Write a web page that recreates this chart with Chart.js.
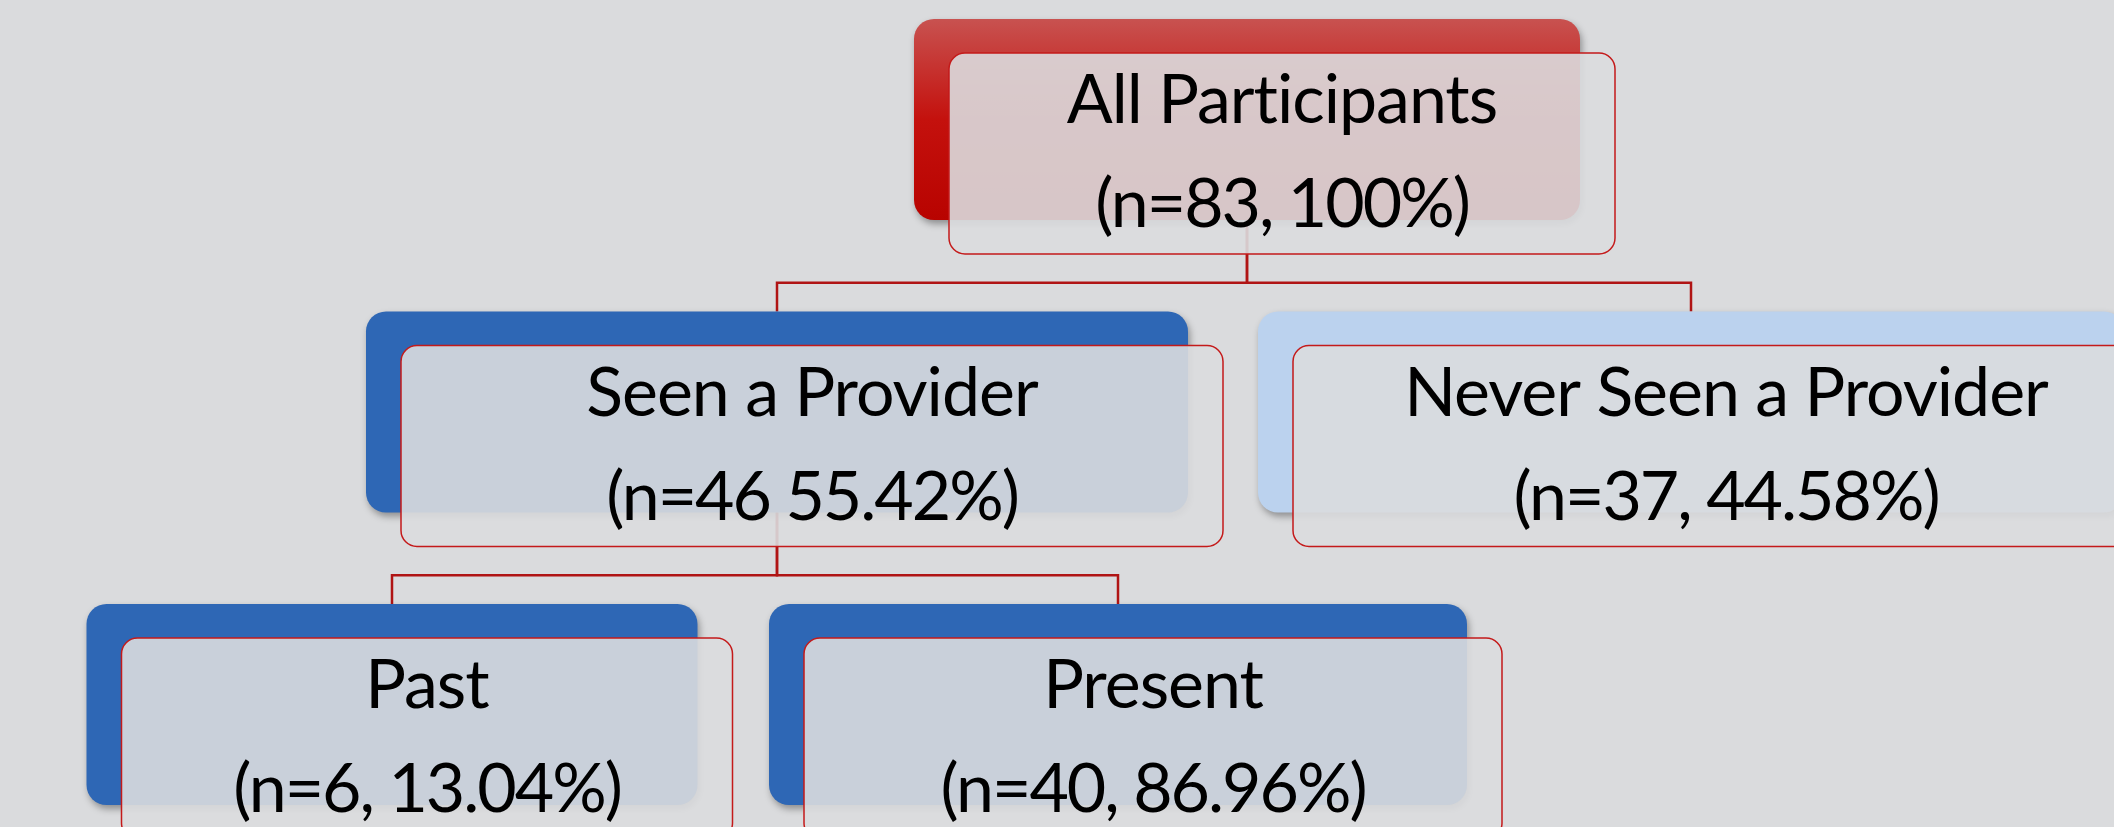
<!DOCTYPE html>
<html>
<head>
<meta charset="utf-8">
<title>Participants tree</title>
<script src="https://cdn.jsdelivr.net/npm/chart.js@4.4.1/dist/chart.umd.min.js"></script>
<style>
  html, body { margin: 0; padding: 0; background: #dadbdd; overflow: hidden; }
  #tree { display: block; }
</style>
</head>
<body>
<canvas id="tree" width="2114" height="827"></canvas>
<script>
// Node data
const nodeNames = ['All Participants', 'Seen a Provider', 'Never Seen a Provider', 'Past', 'Present'];
const nodeCounts = [83, 46, 37, 6, 40];
const nodePcts = ['100', '55.42', '44.58', '13.04', '86.96'];
const nodeSeps = [', ', ' ', ', ', ', ', ', '];   // the source omits the comma on one node
const nodeParent = [-1, 0, 0, 1, 1];

// Layout (tree level and centre of each box, in axis units)
const nodeLevel = [0, 1, 1, 2, 2];
const nodeX = [1247, 777, 1691, 392, 1118];
const nodeW = [666, 822, 866, 611, 698];
const nodeColor = ['red', '#2e67b5', '#bbd2ee', '#2e67b5', '#2e67b5'];

const BOX_H = 201;
const SHIFT_X = 35, SHIFT_Y = 34;

function roundRect(ctx, x, y, w, h, r) {
    ctx.beginPath();
    ctx.moveTo(x + r, y);
    ctx.arcTo(x + w, y, x + w, y + h, r);
    ctx.arcTo(x + w, y + h, x, y + h, r);
    ctx.arcTo(x, y + h, x, y, r);
    ctx.arcTo(x, y, x + w, y, r);
    ctx.closePath();
}

const treePlugin = {
    id: 'treeBoxes',
    beforeDatasetsDraw(chart) {
        const ctx = chart.ctx;
        const xs = chart.scales.x, ys = chart.scales.y;
        const boxes = nodeNames.map((name, i) => {
            const cx = xs.getPixelForValue(nodeX[i]);
            const top = ys.getPixelForValue(nodeLevel[i]);
            return { cx: cx, left: cx - nodeW[i] / 2, top: top, w: nodeW[i] };
        });

        // connectors (elbow lines, under the boxes)
        ctx.save();
        ctx.strokeStyle = '#b01414';
        ctx.lineWidth = 2.5;
        nodeParent.forEach((p, i) => {
            if (p < 0) return;
            const pb = boxes[p], cb = boxes[i];
            const startY = pb.top + BOX_H;
            const elbowY = (pb.top + SHIFT_Y + BOX_H + cb.top) / 2;
            ctx.beginPath();
            ctx.moveTo(pb.cx, startY);
            ctx.lineTo(pb.cx, elbowY);
            ctx.lineTo(cb.cx, elbowY);
            ctx.lineTo(cb.cx, cb.top);
            ctx.stroke();
        });
        ctx.restore();

        // back (coloured) boxes with shadow
        boxes.forEach((b, i) => {
            ctx.save();
            ctx.shadowColor = 'rgba(0,0,0,0.35)';
            ctx.shadowBlur = 7;
            ctx.shadowOffsetX = 2;
            ctx.shadowOffsetY = 4;
            if (nodeColor[i] === 'red') {
                const g = ctx.createLinearGradient(0, b.top, 0, b.top + BOX_H);
                g.addColorStop(0, '#c85250');
                g.addColorStop(0.5, '#c4110d');
                g.addColorStop(1, '#b80300');
                ctx.fillStyle = g;
            } else {
                ctx.fillStyle = nodeColor[i];
            }
            roundRect(ctx, b.left, b.top, b.w, BOX_H, 20);
            ctx.fill();
            ctx.restore();
        });

        // front (translucent) boxes with text
        boxes.forEach((b, i) => {
            const fx = b.left + SHIFT_X, fy = b.top + SHIFT_Y;
            ctx.save();
            roundRect(ctx, fx, fy, b.w, BOX_H, 16);
            ctx.fillStyle = 'rgba(218,220,222,0.9)';
            ctx.fill();
            ctx.strokeStyle = '#c41a1a';
            ctx.lineWidth = 1.5;
            ctx.stroke();

            ctx.fillStyle = '#000';
            ctx.font = '68px Lato, "Open Sans", sans-serif';
            ctx.letterSpacing = '-1px';
            ctx.textAlign = 'center';
            ctx.textBaseline = 'alphabetic';
            const tx = fx + b.w / 2;
            ctx.fillText(nodeNames[i], tx, fy + 70);
            ctx.letterSpacing = '-2px';
            ctx.fillText('(n=' + nodeCounts[i] + nodeSeps[i] + nodePcts[i] + '%)', tx, fy + 174);
            ctx.restore();
        });
    }
};

new Chart(document.getElementById('tree'), {
    type: 'scatter',
    data: {
        datasets: [{
            label: 'nodes',
            data: nodeX.map((x, i) => ({ x: x, y: nodeLevel[i] })),
            pointRadius: 0,
            pointHoverRadius: 0
        }]
    },
    options: {
        responsive: false,
        animation: false,
        layout: { padding: 0 },
        plugins: { legend: { display: false }, tooltip: { enabled: false } },
        scales: {
            x: { type: 'linear', display: false, min: 0, max: 2114 },
            y: { type: 'linear', display: false, reverse: true, min: -19 / 292.5, max: -19 / 292.5 + 827 / 292.5 }
        }
    },
    plugins: [treePlugin]
});
</script>
</body>
</html>
